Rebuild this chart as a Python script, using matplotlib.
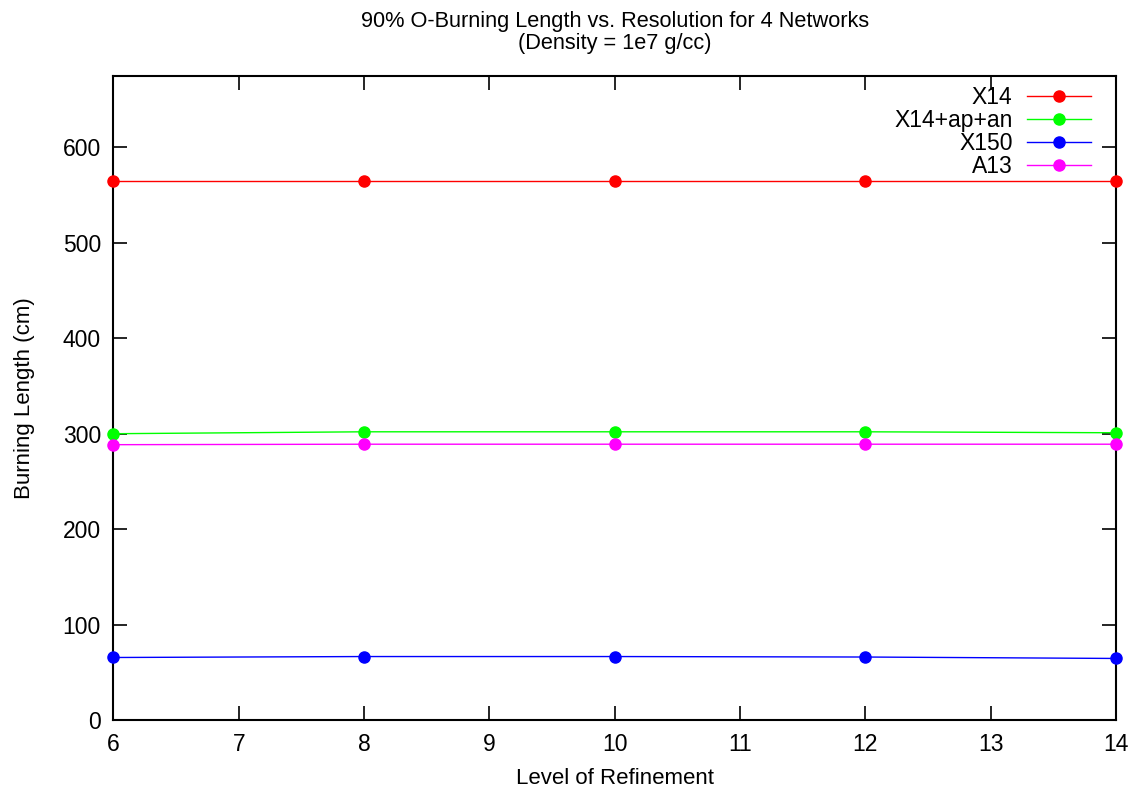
import matplotlib.pyplot as plt

plt.rcParams['font.family'] = ['Liberation Sans', 'DejaVu Sans']

levels = [6, 8, 10, 12, 14]
x14 = [565, 565, 565, 565, 565]
x14_ap_an = [300, 302, 302, 302, 301]
x150 = [65.5, 66.5, 66.5, 66, 64.5]
a13 = [288.5, 289, 289, 289, 289]

series = [
    ('X14', x14, '#ff0000'),
    ('X14+ap+an', x14_ap_an, '#00ff00'),
    ('X150', x150, '#0000ff'),
    ('A13', a13, '#ff00ff'),
]

fig = plt.figure(figsize=(11.34, 7.90), dpi=100)
ax = fig.add_axes([0.100, 0.0886, 0.884, 0.8154])

for name, vals, color in series:
    ax.plot(levels, vals, color=color, lw=1, marker='o', ms=8,
            label=name, clip_on=False, zorder=3)

ax.set_xlim(6, 14)
ax.set_ylim(0, 675)
ax.set_yticks(range(0, 700, 100))
ax.set_xticks(range(6, 15))
ax.tick_params(direction='in', length=10, width=1.2, top=True, right=True,
               labelsize=16.5, pad=9)
for s in ax.spines.values():
    s.set_linewidth(1.5)

ax.set_xlabel('Level of Refinement', fontsize=16, labelpad=9)
ax.set_ylabel('Burning Length (cm)', fontsize=16, labelpad=20)
ax.set_title('90% O-Burning Length vs. Resolution for 4 Networks\n(Density = 1e7 g/cc)',
             fontsize=15.7, pad=19, linespacing=1.1)

leg = ax.legend(loc='upper right', markerfirst=False, frameon=False,
                fontsize=16.5, handlelength=2.75, handletextpad=0.65,
                labelspacing=0.0, borderaxespad=0.05,
                bbox_to_anchor=(0.985, 1.0))
for t in leg.get_texts():
    t.set_ha('right')

fig.savefig('out.png', dpi=100)
